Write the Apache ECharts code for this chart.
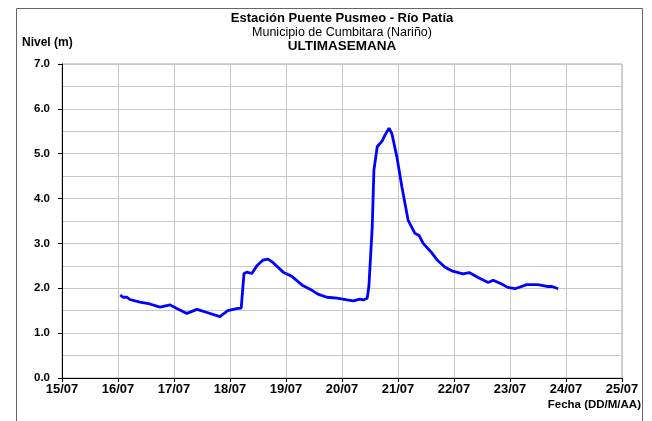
<!DOCTYPE html>
<html>
<head>
<meta charset="utf-8">
<script src="https://cdn.jsdelivr.net/npm/echarts@6/dist/echarts.min.js"></script>
<style>
  html, body { margin: 0; padding: 0; background: #ffffff; }
  #chart { width: 652px; height: 421px; }
</style>
</head>
<body>
<div id="chart"></div>
<script>
// Station header texts
const titulo = 'Estación Puente Pusmeo - Río Patía';
const subtitulo = 'Municipio de Cumbitara (Nariño)';
const periodo = 'ULTIMASEMANA';
const nombreEjeY = 'Nivel (m)';
const nombreEjeX = 'Fecha (DD/M/AA)';

// Time of each reading, as day of July (fractional)
const dias = [
  16.04, 16.09, 16.16, 16.21, 16.39, 16.57, 16.75, 16.93, 17.05, 17.23,
  17.41, 17.59, 17.82, 17.96, 18.14, 18.20, 18.25, 18.30, 18.39, 18.48,
  18.59, 18.68, 18.77, 18.95, 19.11, 19.29, 19.43, 19.57, 19.73, 19.91,
  20.09, 20.20, 20.32, 20.38, 20.45, 20.48, 20.54, 20.57, 20.63, 20.71,
  20.77, 20.84, 20.89, 20.98, 21.07, 21.18, 21.30, 21.38, 21.45, 21.61,
  21.70, 21.84, 21.96, 22.16, 22.27, 22.43, 22.61, 22.70, 22.86, 22.96,
  23.09, 23.30, 23.50, 23.66, 23.75, 23.86
];

// Water level (m) at each reading
const nivel = [
  1.85, 1.80, 1.80, 1.75, 1.69, 1.65, 1.58, 1.63, 1.55, 1.44,
  1.53, 1.46, 1.37, 1.50, 1.55, 1.56, 2.33, 2.36, 2.33, 2.50,
  2.63, 2.65, 2.57, 2.36, 2.26, 2.07, 1.98, 1.87, 1.80, 1.78,
  1.74, 1.72, 1.76, 1.74, 1.78, 2.04, 3.37, 4.64, 5.16, 5.27,
  5.42, 5.57, 5.45, 4.93, 4.26, 3.52, 3.23, 3.17, 3.00, 2.78,
  2.63, 2.47, 2.39, 2.32, 2.35, 2.24, 2.13, 2.18, 2.09, 2.02,
  1.99, 2.08, 2.08, 2.04, 2.04, 1.99
];

// Axis ranges
const diaInicio = 15;
const diaFin = 25;
const mes = '07';
const nivelMax = 7;

const fuente = '"Liberation Sans", Arial, sans-serif';
const serie = dias.map((d, i) => [d, nivel[i]]);

const chart = echarts.init(document.getElementById('chart'), null, { renderer: 'canvas' });

chart.setOption({
  animation: false,
  backgroundColor: '#ffffff',
  grid: {
    left: 62, right: 30, top: 64, bottom: 43,
    show: true, borderColor: '#a6a6a6', borderWidth: 1, backgroundColor: 'transparent'
  },
  xAxis: {
    type: 'value',
    min: diaInicio, max: diaFin, interval: 1,
    axisLine: { show: true, onZero: false, lineStyle: { color: '#000000', width: 1 } },
    axisTick: { show: true, inside: false, length: 4, lineStyle: { color: '#000000' } },
    axisLabel: {
      margin: 5,
      fontFamily: fuente, fontSize: 13, fontWeight: 'bold', color: '#000000',
      formatter: v => String(v).padStart(2, '0') + '/' + mes
    },
    splitLine: { show: true, lineStyle: { color: '#c8c8c8', width: 1 } }
  },
  yAxis: {
    type: 'value',
    min: 0, max: nivelMax, interval: 1,
    axisLine: { show: true, onZero: false, lineStyle: { color: '#000000', width: 1 } },
    axisTick: { show: true, inside: false, length: 4, lineStyle: { color: '#000000' } },
    axisLabel: {
      margin: 12,
      fontFamily: fuente, fontSize: 11.5, fontWeight: 'bold', color: '#000000',
      formatter: v => v.toFixed(1)
    },
    splitLine: { show: true, lineStyle: { color: '#c8c8c8', width: 1 } },
    minorTick: { show: false, splitNumber: 2 },
    minorSplitLine: { show: true, lineStyle: { color: '#c8c8c8', width: 1 } }
  },
  series: [{
    type: 'line',
    data: serie,
    showSymbol: false,
    smooth: false,
    lineStyle: { color: '#0000ff', width: 2.8 },
    itemStyle: { color: '#0000ff' }
  }],
  graphic: [
    {
      type: 'rect', silent: true,
      shape: { x: 16.5, y: 8.5, width: 626, height: 430 },
      style: { fill: 'none', stroke: '#666666', lineWidth: 1 }
    },
    {
      type: 'text', x: 342, y: 18.5,
      style: { text: titulo, font: 'bold 13px ' + fuente, fill: '#000000', align: 'center', verticalAlign: 'middle' }
    },
    {
      type: 'text', x: 342, y: 32.5,
      style: { text: subtitulo, font: '12.5px ' + fuente, fill: '#000000', align: 'center', verticalAlign: 'middle' }
    },
    {
      type: 'text', x: 342, y: 46,
      style: { text: periodo, font: 'bold 13.5px ' + fuente, fill: '#000000', align: 'center', verticalAlign: 'middle' }
    },
    {
      type: 'text', x: 22, y: 43,
      style: { text: nombreEjeY, font: 'bold 12px ' + fuente, fill: '#000000', align: 'left', verticalAlign: 'middle' }
    },
    {
      type: 'text', x: 641, y: 405,
      style: { text: nombreEjeX, font: 'bold 11.5px ' + fuente, fill: '#000000', align: 'right', verticalAlign: 'middle' }
    }
  ]
});
</script>
</body>
</html>
